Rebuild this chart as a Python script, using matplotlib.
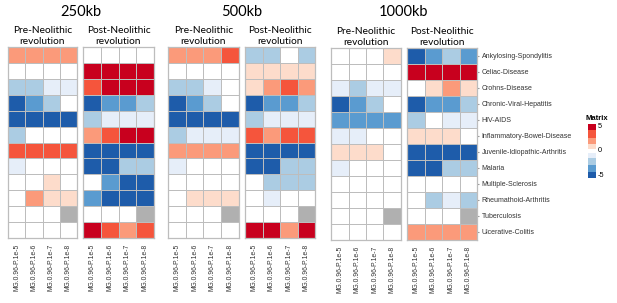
import numpy as np
import matplotlib
matplotlib.use("Agg")
import matplotlib.pyplot as plt
from matplotlib.colors import ListedColormap, BoundaryNorm

diseases = ["Ankylosing-Spondylitis", "Celiac-Disease", "Crohns-Disease",
            "Chronic-Viral-Hepatitis", "HIV-AIDS", "Inflammatory-Bowel-Disease",
            "Juvenile-Idiopathic-Arthritis", "Malaria", "Multiple-Sclerosis",
            "Rheumathoid-Arthritis", "Tuberculosis", "Ulcerative-Colitis"]
columns = ["MG.0.96-P.1e-5", "MG.0.96-P.1e-6", "MG.0.96-P.1e-7", "MG.0.96-P.1e-8"]
windows = ["250kb", "500kb", "1000kb"]
periods = ["Pre-Neolithic\nrevolution", "Post-Neolithic\nrevolution"]
legend_ticks = [5, 0, -5]
NA = np.nan

pre_250 = [[2, 2, 2, 2], [0, 0, 0, 0], [-2, -2, -0.8, -0.8], [-5, -3.5, -2, 0],
           [-5, -5, -5, -5], [-2, 0, 0, 0], [3.5, 3.5, 3.5, 3.5], [-0.8, 0, 0, 0],
           [0, 0, 0.8, 0], [0, 2, 0.8, 0.8], [0, 0, 0, NA], [0, 0, 0, 0]]
post_250 = [[0, 0, 0, 0], [5, 5, 5, 5], [3.5, 5, 5, 5], [-5, -3.5, -3.5, -2],
            [-2, -0.8, -0.8, -0.8], [2, 3.5, 5, 5], [-5, -5, -5, -5], [-5, -5, -2, -2],
            [0, -3.5, -5, -5], [-3.5, -5, -5, -5], [0, 0, 0, NA], [5, 3.5, 2, 3.5]]
pre_500 = [[2, 2, 2, 3.5], [0, 0, 0, 0], [-2, -2, -0.8, 0], [-5, -3.5, -2, 0],
           [-5, -5, -5, -5], [-2, -0.8, -0.8, -0.8], [2, 2, 2, 2], [-0.8, 0, 0, 0],
           [0, 0, 0, 0], [0, 0.8, 0.8, 0.8], [0, 0, 0, NA], [0, 0, 0, 0]]
post_500 = [[-2, -2, 0, -2], [0.8, 0.8, 0.8, 0.8], [0.8, 2, 3.5, 2], [-5, -3.5, -3.5, -2],
            [-2, -0.8, -0.8, -0.8], [3.5, 2, 3.5, 3.5], [-5, -5, -5, -5], [-5, -5, -2, -2],
            [0, -2, -2, -2], [0, -0.8, 0, 0], [0, 0, 0, NA], [5, 5, 2, 5]]
pre_1000 = [[0, 0, 0, 0.8], [0, 0, 0, 0], [-0.8, -2, -0.8, -0.8], [-5, -3.5, -2, 0],
            [-3.5, -3.5, -3.5, -3.5], [-0.8, -0.8, 0, 0], [0.8, 0.8, 0.8, 0], [-0.8, 0, 0, 0],
            [0, 0, 0, 0], [0, 0, 0, 0], [0, 0, 0, NA], [0, 0, 0, 0]]
post_1000 = [[-5, -3.5, -2, -3.5], [5, 5, 5, 5], [0, 0.8, 2, 0.8], [-5, -3.5, -3.5, -2],
             [-2, 0, -0.8, -0.8], [0.8, 0.8, 0.8, 0], [-5, -5, -5, -5], [-5, -5, -2, -2],
             [0, 0, 0, 0], [0, -2, -0.8, -2], [0, 0, 0, NA], [2, 2, 2, 2]]

matrices = {"250kb": [pre_250, post_250], "500kb": [pre_500, post_500],
            "1000kb": [pre_1000, post_1000]}

colors = ["#1e5caa", "#5a9bd0", "#abcce3", "#e6eef9", "#ffffff",
          "#fddccb", "#fb9a7a", "#f5553c", "#c8001e"]
bounds = [-6, -4.25, -2.75, -1.4, -0.4, 0.4, 1.4, 2.75, 4.25, 6]
cmap = ListedColormap(colors)
cmap.set_bad("#b0b0b0")
norm = BoundaryNorm(bounds, cmap.N)

W, H = 617, 303
fig = plt.figure(figsize=(W / 100, H / 100), dpi=100)

def px_axes(x0, y0, x1, y1):
    return fig.add_axes([x0 / W, 1 - y1 / H, (x1 - x0) / W, (y1 - y0) / H])

# pixel layout of each group: (pre x0, pre x1, post x0, post x1, top, bottom)
layout = {"250kb": (8, 77, 83, 154, 47, 238),
          "500kb": (168, 239, 245, 315, 47, 238),
          "1000kb": (331, 401, 407, 477, 48, 240)}
grid_col = "#bdbdbd"
lab_font = "Liberation Sans"
title_font = "Lato"

for w in windows:
    px0, px1, qx0, qx1, top, bot = layout[w]
    for k, (x0, x1) in enumerate([(px0, px1), (qx0, qx1)]):
        ax = px_axes(x0, top, x1, bot)
        data = np.ma.masked_invalid(np.array(matrices[w][k], dtype=float))
        ax.pcolormesh(np.arange(len(columns) + 1), np.arange(len(diseases) + 1), data,
                      cmap=cmap, norm=norm, edgecolors=grid_col, linewidth=0.6)
        ax.set_xlim(0, len(columns))
        ax.set_ylim(len(diseases), 0)
        for s in ax.spines.values():
            s.set_color(grid_col)
            s.set_linewidth(0.9)
        ax.set_yticks([])
        ax.set_xticks(np.arange(len(columns)) + 0.5)
        ax.set_xticklabels(columns, rotation=90, fontsize=4.9, family=lab_font, color="#333333")
        ax.tick_params(axis="x", length=0, pad=4)
        ax.set_title(periods[k], fontsize=7.3, family=title_font, linespacing=1.2, pad=2.5)
        if w == "1000kb" and k == 1:
            ax.yaxis.tick_right()
            ax.set_yticks(np.arange(len(diseases)) + 0.5)
            ax.set_yticklabels(diseases, fontsize=5.0, family=lab_font, color="#333333")
            ax.tick_params(axis="y", length=1.5, pad=2, color="#999999")
    cx = (px0 + qx1) / 2
    fig.text(cx / W, 1 - 12 / H, w, ha="center", va="center", fontsize=10.5, family=title_font)

# legend colour bar (drawn from the same colour scale)
cax = px_axes(588, 124, 596, 178)
levels = np.linspace(-5.5, 5.5, 45)
cax.pcolormesh([0, 1], levels, ((levels[:-1] + levels[1:]) / 2)[:, None],
               cmap=cmap, norm=norm, shading="flat")
cax.set_ylim(-5.5, 5.5)
cax.set_xlim(0, 1)
cax.set_xticks([])
cax.set_yticks([])
for s in cax.spines.values():
    s.set_visible(False)
for v in legend_ticks:
    cax.text(1.25, v, str(v), fontsize=5.3, family=lab_font, va="center", ha="left",
             transform=cax.get_yaxis_transform())
fig.text(586 / W, 1 - 118 / H, "Matrix", fontsize=5.5, family=lab_font, fontweight="bold",
         va="center", ha="left")

fig.savefig("out.png", dpi=100)
